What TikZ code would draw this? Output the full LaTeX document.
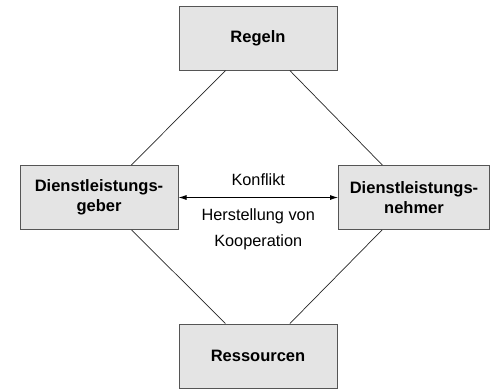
\documentclass[tikz,border=0pt]{standalone}
\usepackage{fontspec}
\setmainfont{Liberation Sans}
\usepackage{tikz}
\usetikzlibrary{arrows.meta, positioning}
\definecolor{boxgrau}{HTML}{E4E4E4}
\definecolor{randgrau}{HTML}{555555}

\begin{document}
\begin{tikzpicture}[
    x=1pt, y=-1pt,
    kasten/.style = {rectangle, draw=randgrau, fill=boxgrau, line width=1pt,
                     minimum width=158pt, minimum height=64pt, inner sep=0pt,
                     align=center, font=\fontsize{16.5}{20}\selectfont\bfseries},
    linie/.style = {black!85, line width=0.7pt},
    pil/.style = {black, line width=0.8pt, {Latex[length=8pt,width=5pt]}-{Latex[length=8pt,width=5pt]}},
    font=\fontsize{16.3}{26}\selectfont
    ]
  \useasboundingbox (0,0) rectangle (490,389);

  \node[kasten] (regeln) at (258,38) {Regeln} ;
  \node[kasten] (geber) at (99,197.5) {Dienstleistungs-\\geber} ;
  \node[kasten, minimum width=151pt] (nehmer) at (414,197.5) {Dienstleistungs-\\nehmer} ;
  \node[kasten] (ressourcen) at (258,356) {Ressourcen} ;

  \draw[linie]
  (regeln) -- (geber)
  (regeln) -- (nehmer)
  (geber) -- (ressourcen)
  (nehmer) -- (ressourcen);

  \draw[pil] (geber) -- (nehmer)
    node[midway, above=8pt] (konflikt) {Konflikt}
    node[midway, below=7pt, align=center] (kooperation) {Herstellung von\\Kooperation};
\end{tikzpicture}
\end{document}
